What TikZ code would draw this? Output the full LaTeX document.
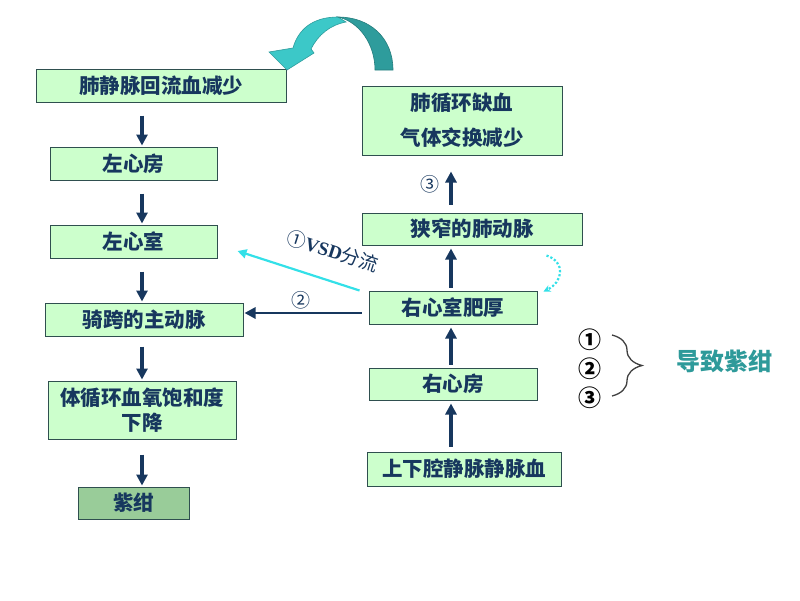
\documentclass[tikz,border=0pt]{standalone}
\usepackage{fontspec}
\setmainfont{Liberation Serif}
\newfontfamily\cjk{Noto Sans CJK SC}
\usetikzlibrary{arrows.meta,decorations.pathreplacing,calc}
\definecolor{boxfill}{HTML}{CCFFCC}
\definecolor{boxfilldark}{HTML}{99CC99}
\definecolor{boxline}{HTML}{2F4F4F}
\definecolor{navy}{HTML}{17375E}
\definecolor{cyanline}{HTML}{33E0E8}
\definecolor{tealtext}{HTML}{2E9A9A}
\definecolor{arrlight}{HTML}{3CC8C8}
\definecolor{arrdark}{HTML}{2E9C9C}
\tikzset{
  box/.style={draw=boxline, fill=boxfill, line width=1pt, inner sep=0pt,
    text=navy, align=center, font=\cjk\bfseries\fontsize{20.5}{25}\selectfont},
  arr/.style={draw=navy, line width=3.3pt, -{Triangle[length=11pt,width=11pt]}},
  numlabel/.style={text=navy, font=\cjk\fontsize{19}{20}\selectfont},
  circnum/.style={text=black, font=\cjk\bfseries\fontsize{23}{24}\selectfont},
}
\begin{document}
\begin{tikzpicture}[x=1pt,y=-1pt]
\useasboundingbox (0,0) rectangle (800,600);
% left column
\node[box, minimum width=250pt, minimum height=33pt] (a) at (161,85.5) {肺静脉回流血减少};
\node[box, minimum width=167pt, minimum height=33pt] (b) at (133.5,163.5) {左心房};
\node[box, minimum width=167pt, minimum height=33pt] (c) at (133.5,241.5) {左心室};
\node[box, minimum width=198pt, minimum height=33pt] (d) at (144,319.5) {骑跨的主动脉};
\node[box, minimum width=188pt, minimum height=58pt] (e) at (142,410) {体循环血氧饱和度\\下降};
\node[box, fill=boxfilldark, minimum width=111pt, minimum height=32pt] (f) at (133.5,503) {紫绀};
% right column
\node[box, minimum width=200pt, minimum height=69pt, font=\cjk\bfseries\fontsize{20.5}{35}\selectfont] (g) at (462,120.5) {肺循环缺血\\气体交换减少};
\node[box, minimum width=220pt, minimum height=32pt] (h) at (472,229) {狭窄的肺动脉};
\node[box, minimum width=168pt, minimum height=33pt] (i) at (453,307.5) {右心室肥厚};
\node[box, minimum width=168pt, minimum height=32pt] (j) at (453,384) {右心房};
\node[box, minimum width=194pt, minimum height=34pt] (k) at (464,469) {上下腔静脉静脉血};
\coordinate (lx) at (142,0);
\coordinate (rx) at (451,0);
% left arrows
\draw[arr] ([yshift=-13pt]a.south -| lx) -- ([yshift=1pt]b.north -| lx);
\draw[arr] ([yshift=-13pt]b.south -| lx) -- ([yshift=1pt]c.north -| lx);
\draw[arr] ([yshift=-13pt]c.south -| lx) -- ([yshift=1pt]d.north -| lx);
\draw[arr] ([yshift=-10pt]d.south -| lx) -- ([yshift=1pt]e.north -| lx);
\draw[arr] ([yshift=-15pt]e.south -| lx) -- ([yshift=1pt]f.north -| lx);
% right arrows
\draw[arr] ([yshift=5pt]k.north -| rx) -- ([yshift=-3pt]j.south -| rx);
\draw[arr] ([yshift=3pt]j.north -| rx) -- ([yshift=-3pt]i.south -| rx);
\draw[arr] ([yshift=3pt]i.north -| rx) -- ([yshift=-3pt]h.south -| rx);
\draw[arr] ([yshift=8pt]h.north -| rx) -- ([yshift=-16pt]g.south -| rx);
\node[numlabel] (n3) at (430,184) {③};
% arrow 2
\draw[arr, line width=2.8pt] ([xshift=-7pt,yshift=-5.5pt]i.west) -- ([xshift=1pt,yshift=-5.5pt]i.west -| d.east);
\node[numlabel] (n2) at (301,300) {②};
% VSD arrow
\draw[draw=cyanline, line width=2.2pt, -{Triangle[length=9pt,width=9pt]}] ([xshift=-9pt]i.north west) -- ([xshift=20pt,yshift=-9.5pt]c.east);
\node[rotate=-18, text=navy, inner sep=0pt] (vsd) at (333,251) {\cjk\fontsize{19}{20}\selectfont ①\textbf{\rmfamily\fontsize{19}{20}\selectfont VSD}分流};
% dotted curve
\draw[draw=cyanline, line width=2.2pt, dotted, -{Stealth[length=7pt,width=7pt]}] ([xshift=-36pt,yshift=-10pt]h.south east) .. controls (566,262) and (563,282) .. ([xshift=6pt,yshift=-1pt]i.north east);
% big curved arrow
\fill[arrlight, draw=arrdark, line width=0.6pt] (338,17) .. controls (312,17) and (298,30) .. (293,48) -- (269,52) -- (287,70) -- (314,53) -- (311,49) .. controls (318,35) and (330,25) .. (346,22) -- cycle;
\fill[arrdark, draw=arrdark!80!black, line width=0.6pt] (338,17) .. controls (370,17) and (393,38) .. (393,70) -- (375,70) .. controls (375,45) and (360,22) .. (338,17) -- cycle;
% brace group
\node[circnum] (c1) at (590,340) {①};
\node[circnum] (c2) at (590,369) {②};
\node[circnum] (c3) at (590,398) {③};
\coordinate (bt) at (612,335);
\coordinate (bb) at (612,396);
\draw[decorate, decoration={brace, amplitude=30pt}, draw=black!75, line width=1.3pt] (bt) -- (bb);
\node[text=tealtext, font=\cjk\bfseries\fontsize{24}{26}\selectfont] (res) at (724,361) {导致紫绀};
\end{tikzpicture}
\end{document}
